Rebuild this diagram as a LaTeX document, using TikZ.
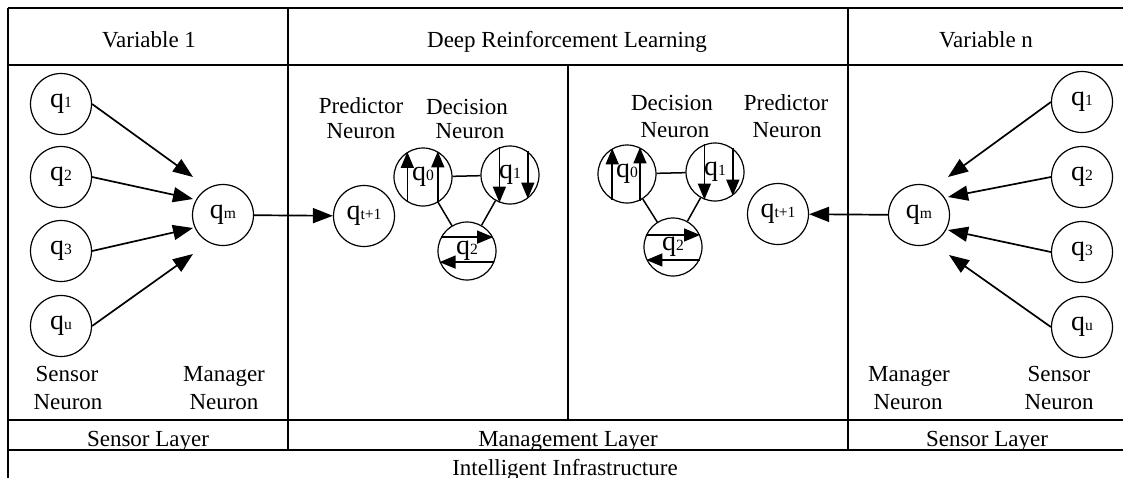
\documentclass[tikz,border=0pt]{standalone}
\usepackage{fontspec}
\setmainfont{Liberation Serif}
\usetikzlibrary{arrows.meta,calc}
\newcommand{\qlab}[1]{q{\fontsize{7.8}{8}\selectfont #1}}
\begin{document}
\begin{tikzpicture}[x=0.5pt,y=-0.5pt,
  grid/.style={line width=0.9pt},
  txt/.style={font=\fontsize{11.5}{12}\selectfont, inner sep=0pt, anchor=base},
  neuron/.style={circle,draw,line width=0.6pt,minimum size=30.5pt,inner sep=0pt,font=\fontsize{14}{14}\selectfont},
  dneuron/.style={neuron,minimum size=29pt},
  conn/.style={line width=0.85pt,-{Triangle[length=10pt,width=7.5pt]}},
  inarrow/.style={line width=0.75pt,-{Triangle[length=8pt,width=6.5pt]}},
  link/.style={line width=0.75pt}]
\useasboundingbox (0,0) rectangle (1123,477);
% table grid
\draw[grid] (8,8) -- (1130,8);
\draw[grid] (8,65) -- (1130,65);
\draw[grid] (8,420) -- (1130,420);
\draw[grid] (8,450) -- (1130,450);
\draw[grid] (8,8) -- (8,485);
\draw[grid] (288,8) -- (288,450);
\draw[grid] (848,8) -- (848,450);
\draw[grid] (568,65) -- (568,420);
% headers and footers
\node[txt] (h1) at (149,47) {Variable 1};
\node[txt] (h2) at (567,47) {Deep Reinforcement Learning};
\node[txt] (h3) at (986,47) {Variable n};
\node[txt] (f1) at (148,446) {Sensor Layer};
\node[txt] (f2) at (568,446) {Management Layer};
\node[txt] (f3) at (987,446) {Sensor Layer};
\node[txt] (f4) at (565,475) {Intelligent Infrastructure};
% captions
\node[txt] (cSL1) at (67,381) {Sensor};
\node[txt] (cSL2) at (68,409) {Neuron};
\node[txt] (cML1) at (224,381) {Manager};
\node[txt] (cML2) at (224,409) {Neuron};
\node[txt] (cMR1) at (909,381) {Manager};
\node[txt] (cMR2) at (908,409) {Neuron};
\node[txt] (cSR1) at (1059,381) {Sensor};
\node[txt] (cSR2) at (1059,409) {Neuron};
\node[txt] (cPL1) at (361,113) {Predictor};
\node[txt] (cPL2) at (361,138) {Neuron};
\node[txt] (cDL1) at (467,114) {Decision};
\node[txt] (cDL2) at (470,138) {Neuron};
\node[txt] (cDR1) at (672,110) {Decision};
\node[txt] (cDR2) at (675,137) {Neuron};
\node[txt] (cPR1) at (786,110) {Predictor};
\node[txt] (cPR2) at (787,137) {Neuron};
% left sensor layer
\node[neuron] (s1) at (61,104) {\qlab{1}};
\node[neuron] (s2) at (61,177) {\qlab{2}};
\node[neuron] (s3) at (61,251) {\qlab{3}};
\node[neuron] (su) at (61,326) {\qlab{u}};
\node[neuron] (mL) at (223,215) {\qlab{m}};
\node[neuron] (pL) at (364,216) {\qlab{t+1}};
\coordinate (tL1) at (193,177);
\coordinate (tL2) at (193,199);
\coordinate (tL3) at (193,228);
\coordinate (tL4) at (193,254);
\draw[conn] (s1.east) -- (tL1);
\draw[conn] (s2.east) -- (tL2);
\draw[conn] (s3.east) -- (tL3);
\draw[conn] (su.east) -- (tL4);
\draw[conn] (mL) -- (pL);
% right sensor layer
\node[neuron] (r1) at (1082,102) {\qlab{1}};
\node[neuron] (r2) at (1082,177) {\qlab{2}};
\node[neuron] (r3) at (1082,252) {\qlab{3}};
\node[neuron] (ru) at (1082,327) {\qlab{u}};
\node[neuron] (mR) at (919,215) {\qlab{m}};
\node[neuron] (pR) at (778,214) {\qlab{t+1}};
\coordinate (tR1) at (948,177);
\coordinate (tR2) at (948,197);
\coordinate (tR3) at (948,230);
\coordinate (tR4) at (949,255);
\draw[conn] (r1.west) -- (tR1);
\draw[conn] (r2.west) -- (tR2);
\draw[conn] (r3.west) -- (tR3);
\draw[conn] (ru.west) -- (tR4);
\draw[conn] (mR) -- (pR);
% left decision cluster
\node[dneuron] (a0) at (423,177) {\qlab{0}};
\node[dneuron] (a1) at (510,175) {\qlab{1}};
\node[dneuron] (a2) at (467,251) {\qlab{2}};
\draw[link] (a0) -- (a1);
\draw[link] (a0) -- (a2);
\draw[link] (a1) -- (a2);
\draw[inarrow] (a0.238) -- (a0.122);
\draw[inarrow] (a0.300) -- (a0.60);
\draw[inarrow] (a1.111) -- (a1.249);
\draw[inarrow] (a1.53) -- (a1.307);
\draw[inarrow] (a2.152) -- (a2.28);
\draw[inarrow] (a2.338) -- (a2.202);
% right decision cluster
\node[dneuron] (b0) at (627,174) {\qlab{0}};
\node[dneuron] (b1) at (715,172) {\qlab{1}};
\node[dneuron] (b2) at (673,247) {\qlab{2}};
\draw[link] (b0) -- (b1);
\draw[link] (b0) -- (b2);
\draw[link] (b1) -- (b2);
\draw[inarrow] (b0.240) -- (b0.120);
\draw[inarrow] (b0.296) -- (b0.64);
\draw[inarrow] (b1.111) -- (b1.249);
\draw[inarrow] (b1.53) -- (b1.307);
\draw[inarrow] (b2.156) -- (b2.24);
\draw[inarrow] (b2.334) -- (b2.206);
\end{tikzpicture}
\end{document}
